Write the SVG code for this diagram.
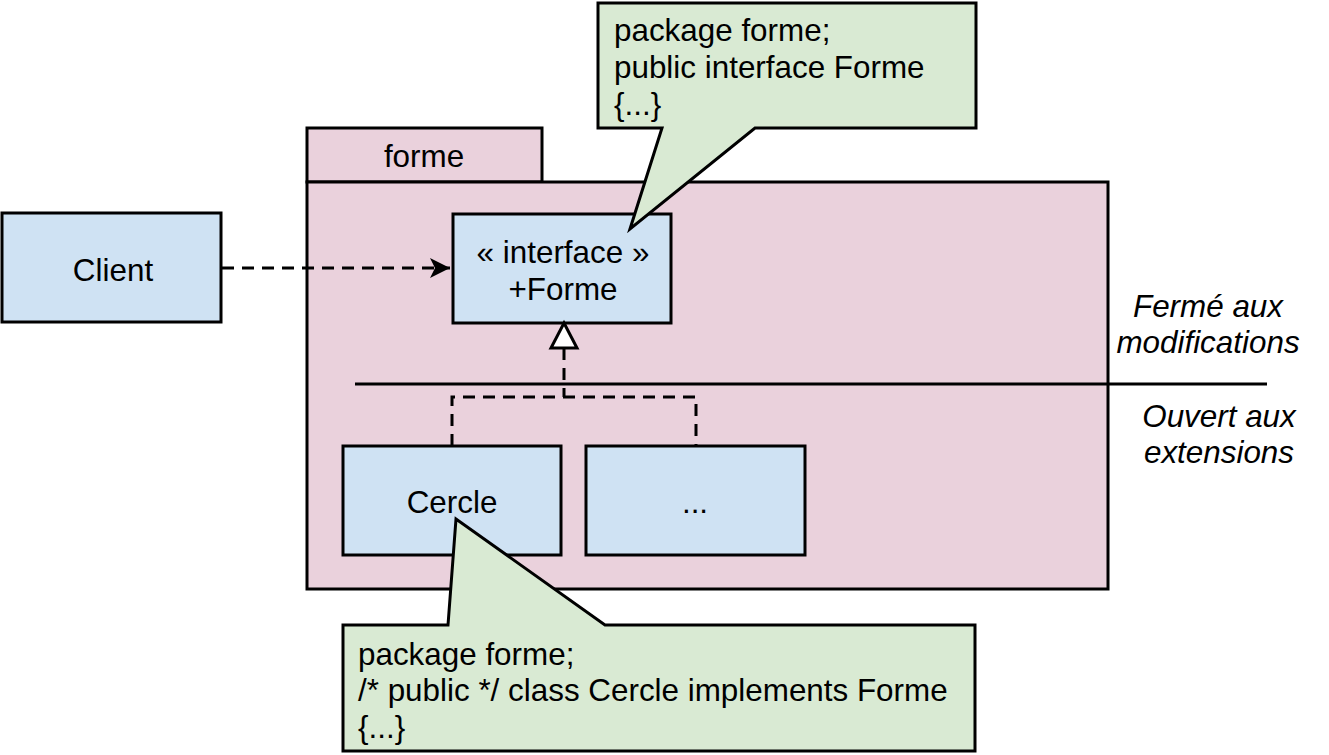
<svg xmlns="http://www.w3.org/2000/svg" width="1329" height="755" viewBox="0 0 1329 755">
<style>
text{font-family:"Liberation Sans",Arial,sans-serif;font-size:31.4px;fill:#000}
.c{text-anchor:middle}
.i{font-style:italic;text-anchor:middle}
.blue{fill:#cfe2f3;stroke:#000;stroke-width:3}
.pink{fill:#ead1dc;stroke:#000;stroke-width:3}
.green{fill:#d9ead3;stroke:#000;stroke-width:3;stroke-linejoin:miter}
.dash{fill:none;stroke:#000;stroke-width:3;stroke-dasharray:12 8}
</style>
<defs>
<marker id="open" markerUnits="userSpaceOnUse" markerWidth="24" markerHeight="24" refX="20" refY="10" orient="auto">
<path d="M0,0 L20,10 L0,20 L5,10 Z" fill="#000"/>
</marker>
</defs>
<rect width="1329" height="755" fill="#fff"/>
<g id="package-forme">
<rect class="pink" x="307" y="128" width="235" height="54"/>
<rect class="pink" x="307" y="182" width="801" height="407"/>
<text class="c" x="424" y="167">forme</text>
</g>
<g id="client">
<rect class="blue" x="2" y="213" width="219" height="109"/>
<text class="c" x="113" y="281">Client</text>
</g>
<g id="interface-forme">
<rect class="blue" x="453" y="214" width="218" height="109"/>
<text class="c" x="563" y="263">« interface »</text>
<text class="c" x="563" y="300">+Forme</text>
</g>
<g id="cercle">
<rect class="blue" x="343" y="446" width="218" height="109"/>
<text class="c" x="452" y="513">Cercle</text>
</g>
<g id="autre">
<rect class="blue" x="586" y="446" width="219" height="109"/>
<text class="c" x="695" y="513">...</text>
</g>
<g id="separator">
<line x1="355" y1="384" x2="1267" y2="384" stroke="#000" stroke-width="3"/>
<text class="i" x="1208" y="317">Fermé aux</text>
<text class="i" x="1208" y="353">modifications</text>
<text class="i" x="1219" y="427">Ouvert aux</text>
<text class="i" x="1219" y="463">extensions</text>
</g>
<g id="connectors">
<line class="dash" x1="222" y1="268" x2="450" y2="268" marker-end="url(#open)"/>
<path class="dash" d="M564,348 V397"/>
<path class="dash" d="M452,446 V397 H696 V446"/>
<path d="M564,323 L577,348 L551,348 Z" fill="#fff" stroke="#000" stroke-width="3" stroke-linejoin="miter"/>
</g>
<g id="note-interface">
<path class="green" d="M598,3 H976 V128 H755 L630,229 L662,128 H598 Z"/>
<text x="614" y="41">package forme;</text>
<text x="614" y="78">public interface Forme</text>
<text x="614" y="115">{...}</text>
</g>
<g id="note-cercle">
<path class="green" d="M343,625 H448 L456,519 L605,625 H975 V751 H343 Z"/>
<text x="358" y="665">package forme;</text>
<text x="358" y="701">/* public */ class Cercle implements Forme</text>
<text x="358" y="738">{...}</text>
</g>
</svg>
